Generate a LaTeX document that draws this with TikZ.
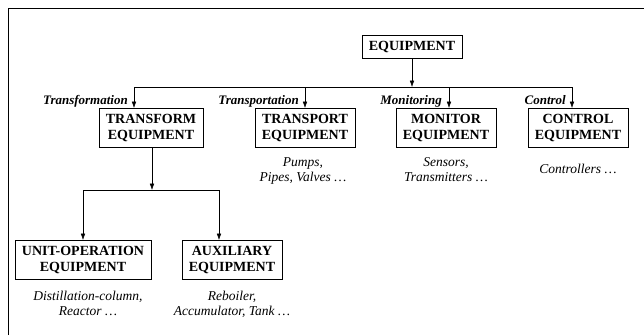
\documentclass[tikz,border=0pt]{standalone}
\usepackage{fontspec}
\setmainfont{Liberation Serif}
\usetikzlibrary{arrows.meta, positioning}
\tikzset{
    eqbox/.style={
        draw,
        line width=0.6pt,
        align=center,
        font=\fontsize{14}{16}\selectfont\bfseries,
        inner xsep=7pt,
        inner ysep=5.5pt
    },
    branch/.style={font=\fontsize{13}{15}\selectfont\bfseries\itshape, anchor=base east, inner sep=0pt},
    example/.style={font=\fontsize{13.5}{15}\selectfont\itshape, align=center, anchor=north, inner sep=0pt},
    flow/.style={-{Latex[length=2.2mm, width=1.6mm]}, line width=0.5pt},
    link/.style={line width=0.5pt}
}

\begin{document}
\begin{tikzpicture}[x=1pt, y=-1pt]
    \useasboundingbox (0,0) rectangle (644,335);
    % frame
    \draw[line width=1pt] (8,335) -- (8,8) -- (644,8);

    \node[eqbox] (equip) at (412,47) {EQUIPMENT};

    % first level
    \node[eqbox, anchor=north] (transform) at (151,108) {TRANSFORM\\EQUIPMENT};
    \node[eqbox, anchor=north] (transport) at (305,108) {TRANSPORT\\EQUIPMENT};
    \node[eqbox, anchor=north] (monitor) at (446,108) {MONITOR\\EQUIPMENT};
    \node[eqbox, anchor=north] (control) at (578,108) {CONTROL\\EQUIPMENT};

    \coordinate (bus) at (412,87);
    \coordinate (jtransform) at (134,87);
    \coordinate (jtransport) at (305,87);
    \coordinate (jmonitor) at (449,87);
    \coordinate (jcontrol) at (572,87);

    \draw[flow] (equip) -- (bus);
    \draw[link] (jtransform) -- (jcontrol);
    \draw[flow] (jtransform) -- (jtransform |- transform.north);
    \draw[flow] (jtransport) -- (jtransport |- transport.north);
    \draw[flow] (jmonitor) -- (jmonitor |- monitor.north);
    \draw[flow] (jcontrol) -- (jcontrol |- control.north);

    \node[branch] (ltransform) at (128,104) {Transformation};
    \node[branch] (ltransport) at (299,104) {Transportation};
    \node[branch] (lmonitor) at (442,104) {Monitoring};
    \node[branch] (lcontrol) at (566,104) {Control};

    \node[example] (extransport) at (303,157) {Pumps,\\Pipes, Valves \ldots};
    \node[example] (exmonitor) at (446,157) {Sensors,\\Transmitters \ldots};
    \node[example] (excontrol) at (578,164) {Controllers \ldots};

    % second level
    \node[eqbox, anchor=north] (unitop) at (83,240) {UNIT-OPERATION\\EQUIPMENT};
    \node[eqbox, anchor=north] (auxiliary) at (232,240) {AUXILIARY\\EQUIPMENT};

    \coordinate (fork) at (152,190);
    \coordinate (junitop) at (83,190);
    \coordinate (jauxiliary) at (219,190);

    \draw[flow] (fork |- transform.south) -- (fork);
    \draw[link] (junitop) -- (jauxiliary);
    \draw[flow] (junitop) -- (junitop |- unitop.north);
    \draw[flow] (jauxiliary) -- (jauxiliary |- auxiliary.north);

    \node[example] (exunitop) at (88,291) {Distillation-column,\\Reactor \ldots};
    \node[example] (exauxiliary) at (232,291) {Reboiler,\\Accumulator, Tank \ldots};
\end{tikzpicture}
\end{document}
